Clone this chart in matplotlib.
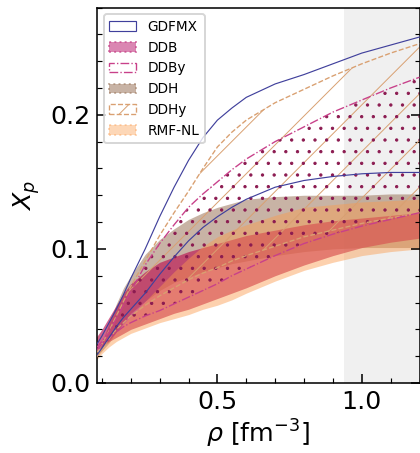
import matplotlib
matplotlib.use("Agg")
import matplotlib.pyplot as plt
from matplotlib.patches import Patch
from matplotlib.ticker import MultipleLocator

# density grid (fm^-3)
rho = [0.08, 0.10, 0.125, 0.15, 0.175, 0.2, 0.25, 0.3, 0.35, 0.4, 0.45, 0.5, 0.55, 0.6, 0.7, 0.8, 0.9, 1.0, 1.1, 1.2]

# proton fraction bands
gdfmx_hi = [0.028, 0.035, 0.045, 0.055, 0.066, 0.078, 0.100, 0.124, 0.146, 0.166, 0.183, 0.196, 0.205, 0.213, 0.223, 0.230, 0.238, 0.246, 0.252, 0.258]
gdfmx_lo = [0.020, 0.026, 0.034, 0.042, 0.049, 0.055, 0.067, 0.081, 0.094, 0.106, 0.116, 0.124, 0.131, 0.137, 0.146, 0.151, 0.154, 0.156, 0.157, 0.157]
ddb_hi = [0.034, 0.040, 0.049, 0.058, 0.067, 0.074, 0.083, 0.090, 0.094, 0.098, 0.101, 0.104, 0.107, 0.110, 0.114, 0.118, 0.121, 0.123, 0.125, 0.127]
ddb_lo = [0.024, 0.027, 0.031, 0.034, 0.037, 0.040, 0.044, 0.048, 0.052, 0.055, 0.059, 0.063, 0.067, 0.071, 0.080, 0.088, 0.095, 0.101, 0.105, 0.108]
ddby_hi = [0.026, 0.031, 0.038, 0.048, 0.058, 0.068, 0.088, 0.104, 0.118, 0.131, 0.141, 0.150, 0.159, 0.167, 0.180, 0.191, 0.202, 0.211, 0.220, 0.228]
ddby_lo = [0.024, 0.029, 0.034, 0.038, 0.042, 0.045, 0.050, 0.054, 0.059, 0.064, 0.069, 0.074, 0.080, 0.085, 0.095, 0.104, 0.111, 0.117, 0.122, 0.127]
ddh_hi = [0.022, 0.030, 0.045, 0.059, 0.071, 0.080, 0.096, 0.107, 0.115, 0.122, 0.127, 0.131, 0.134, 0.137, 0.139, 0.140, 0.140, 0.140, 0.141, 0.141]
ddh_lo = [0.019, 0.024, 0.030, 0.038, 0.045, 0.052, 0.061, 0.069, 0.075, 0.079, 0.083, 0.086, 0.089, 0.091, 0.095, 0.098, 0.100, 0.101, 0.101, 0.101]
ddhy_hi = [0.022, 0.029, 0.039, 0.050, 0.061, 0.072, 0.091, 0.110, 0.127, 0.143, 0.160, 0.176, 0.187, 0.196, 0.209, 0.219, 0.229, 0.238, 0.246, 0.253]
ddhy_lo = [0.019, 0.025, 0.033, 0.040, 0.045, 0.050, 0.058, 0.065, 0.071, 0.077, 0.082, 0.086, 0.091, 0.095, 0.102, 0.109, 0.114, 0.119, 0.123, 0.127]
rmf_hi = [0.021, 0.026, 0.032, 0.038, 0.044, 0.050, 0.061, 0.072, 0.083, 0.093, 0.102, 0.109, 0.114, 0.118, 0.125, 0.131, 0.133, 0.135, 0.136, 0.137]
rmf_lo = [0.017, 0.022, 0.027, 0.031, 0.034, 0.037, 0.041, 0.045, 0.048, 0.051, 0.055, 0.058, 0.062, 0.067, 0.076, 0.084, 0.090, 0.095, 0.098, 0.100]

labels = ["GDFMX", "DDB", "DDBy", "DDH", "DDHy", "RMF-NL"]

navy = "#40409c"
c_ddb = "#bc1452"
c_ddby = "#c8408a"
c_dots = "#8b1a50"
c_ddh = "#9b765b"
c_ddhy = "#d9a071"
c_rmf = "#fb9b4d"

plt.rcParams["hatch.linewidth"] = 0.5
plt.rcParams["font.size"] = 13

fig = plt.figure(figsize=(3.0, 453 / 140))
ax = fig.add_axes([97 / 420, 70 / 453, 322.5 / 420, 375.5 / 453])

ax.axvspan(0.94, 1.3, color="0.94", lw=0, zorder=0)

# filled bands
ax.fill_between(rho, ddh_lo, ddh_hi, color=c_ddh, alpha=0.55, lw=0, zorder=1)
ax.fill_between(rho, ddb_lo, ddb_hi, color=c_ddb, alpha=0.66, lw=0, zorder=1)
ax.fill_between(rho, rmf_lo, rmf_hi, color=c_rmf, alpha=0.45, lw=0, zorder=1)

# hatched bands
ax.fill_between(rho, ddhy_lo, ddhy_hi, facecolor="none", edgecolor=c_ddhy, hatch="/", lw=0, zorder=2)
ax.fill_between(rho, ddby_lo, ddby_hi, facecolor="none", edgecolor=c_dots, hatch="..", lw=0, zorder=2)

# band edges
ax.plot(rho, ddhy_hi, ls="--", color=c_ddhy, lw=0.7, zorder=3)
ax.plot(rho, ddhy_lo, ls="--", color=c_ddhy, lw=0.7, zorder=3)
ax.plot(rho, ddby_hi, ls="-.", color=c_ddby, lw=0.7, zorder=3)
ax.plot(rho, ddby_lo, ls="-.", color=c_ddby, lw=0.7, zorder=3)
ax.plot(rho, gdfmx_hi, color=navy, lw=0.6, zorder=4)
ax.plot(rho, gdfmx_lo, color=navy, lw=0.6, zorder=4)

ax.set_xlim(0.083, 1.2)
ax.set_ylim(0, 0.28)
ax.xaxis.set_major_locator(MultipleLocator(0.5))
ax.xaxis.set_minor_locator(MultipleLocator(0.1))
ax.yaxis.set_major_locator(MultipleLocator(0.1))
ax.yaxis.set_minor_locator(MultipleLocator(0.02))
ax.tick_params(which="both", direction="in", right=True, top=False, labelsize=13)
ax.tick_params(which="major", length=4.5, width=0.8)
ax.tick_params(which="minor", length=2.5, width=0.6)
for s in ax.spines.values():
    s.set_linewidth(0.8)

ax.set_xlabel(r"$\rho$ [fm$^{-3}$]", fontsize=13, labelpad=2)
ax.set_ylabel(r"$X_p$", fontsize=13, labelpad=4)

handles = [
    Patch(facecolor="white", edgecolor=navy, lw=0.6),
    Patch(facecolor="#c2357f", alpha=0.6, edgecolor="#c2357f", ls=":"),
    Patch(facecolor="white", edgecolor=c_ddby, ls="-.", lw=0.7),
    Patch(facecolor=c_ddh, alpha=0.55, edgecolor=c_ddh, ls=":"),
    Patch(facecolor="white", edgecolor=c_ddhy, ls="--", lw=0.7, hatch="/"),
    Patch(facecolor=c_rmf, alpha=0.4, edgecolor=c_rmf, ls=":"),
]
ax.legend(handles, labels, loc="upper left", fontsize=7, framealpha=0.8)

fig.savefig("out.png", dpi=140)
